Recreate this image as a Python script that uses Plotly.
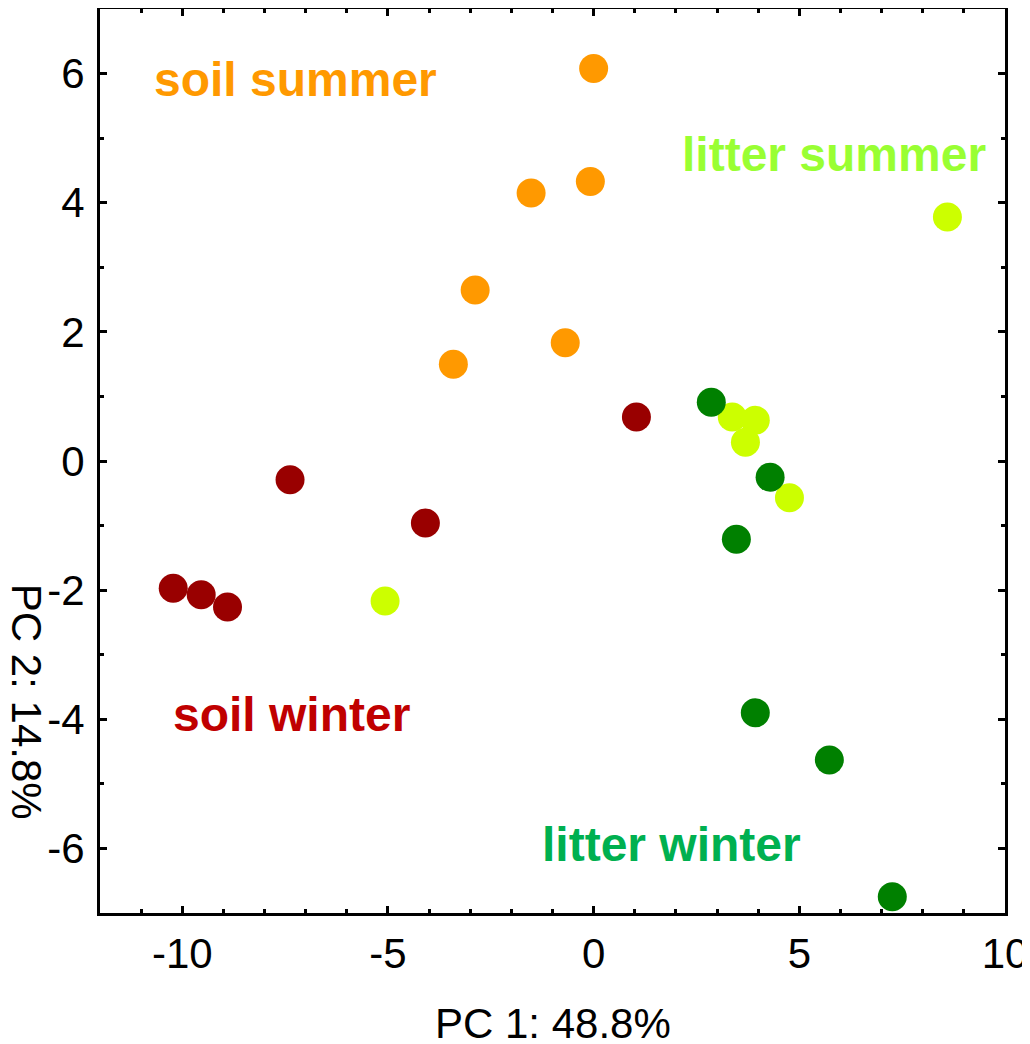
import plotly.graph_objects as go

# ---- data ----
soil_summer_x = [0.00, -0.08, -1.52, -2.88, -0.69, -3.41]
soil_summer_y = [6.08, 4.33, 4.15, 2.65, 1.83, 1.50]

soil_winter_x = [1.04, -7.38, -4.09, -10.22, -9.54, -8.90]
soil_winter_y = [0.68, -0.29, -0.96, -1.97, -2.07, -2.26]

litter_summer_x = [8.60, 3.37, 3.93, 3.69, 4.76, -5.07]
litter_summer_y = [3.78, 0.68, 0.63, 0.29, -0.57, -2.17]

litter_winter_x = [2.86, 4.29, 3.47, 3.93, 5.73, 7.26]
litter_winter_y = [0.91, -0.25, -1.21, -3.90, -4.63, -6.75]

group_names = ["soil summer", "litter summer", "soil winter", "litter winter"]
label_x = [-7.25, 5.84, -7.35, 1.89]
label_y = [5.91, 4.74, -3.93, -5.94]

x_tick_vals = [-10, -5, 0, 5, 10]
x_tick_text = ["-10", "-5", "0", "5", "10"]
y_tick_vals = [-6, -4, -2, 0, 2, 4, 6]
y_tick_text = ["-6", "-4", "-2", "0", "2", "4", "6"]

x_title = "PC 1: 48.8%"
y_title = "PC 2: 14.8%"

# ---- styles ----
marker_colors = {"soil summer": "#FF9900", "litter summer": "#CCFF00",
                 "soil winter": "#990000", "litter winter": "#008000"}
label_colors = {"soil summer": "#FF9900", "litter summer": "#99FF33",
                "soil winter": "#C00000", "litter winter": "#00B050"}
FONT = "Liberation Sans, Arial, sans-serif"

fig = go.Figure()
series = [
    ("soil summer", soil_summer_x, soil_summer_y),
    ("soil winter", soil_winter_x, soil_winter_y),
    ("litter summer", litter_summer_x, litter_summer_y),
    ("litter winter", litter_winter_x, litter_winter_y),
]
for name, xs, ys in series:
    fig.add_trace(go.Scatter(
        x=xs, y=ys, mode="markers", name=name,
        marker=dict(size=29, color=marker_colors[name], line=dict(width=0)),
        showlegend=False))

for name, lx, ly in zip(group_names, label_x, label_y):
    fig.add_annotation(x=lx, y=ly, xref="x", yref="y", text=f"<b>{name}</b>",
                       showarrow=False, xanchor="center", yanchor="middle",
                       font=dict(family=FONT, size=48, color=label_colors[name]))

# axis titles
fig.add_annotation(x=0.5, y=0, xref="paper", yref="paper", text=x_title,
                   showarrow=False, xanchor="center", yanchor="middle",
                   yshift=-110, font=dict(family=FONT, size=42, color="black"))
fig.add_annotation(x=0, y=-3.73, xref="paper", yref="y", text=y_title,
                   showarrow=False, xanchor="center", yanchor="middle",
                   textangle=90, xshift=-74,
                   font=dict(family=FONT, size=42, color="black"))

axis_common = dict(
    showgrid=False, zeroline=False, showline=True, linecolor="black",
    linewidth=3, mirror="ticks", ticks="inside", ticklen=7, tickwidth=2.5,
    tickcolor="black", tickfont=dict(family=FONT, size=42, color="black"),
)
minor_common = dict(tickmode="linear", tick0=0, dtick=1, ticks="inside",
                    ticklen=4, tickwidth=2.5, tickcolor="black", showgrid=False)
fig.update_xaxes(range=[-12, 10], tickmode="array", tickvals=x_tick_vals,
                 ticktext=x_tick_text, minor=minor_common,
                 ticklabelstandoff=2, **axis_common)
fig.update_yaxes(range=[-7, 7], tickmode="array", tickvals=y_tick_vals,
                 ticktext=y_tick_text, minor=minor_common,
                 ticklabelstandoff=4, **axis_common)

fig.update_layout(
    width=1030, height=1044,
    margin=dict(l=92, r=33, t=1, b=139, autoexpand=False),
    plot_bgcolor="white", paper_bgcolor="white",
    font=dict(family=FONT, size=42, color="black"),
)

fig.write_html("out.html")
